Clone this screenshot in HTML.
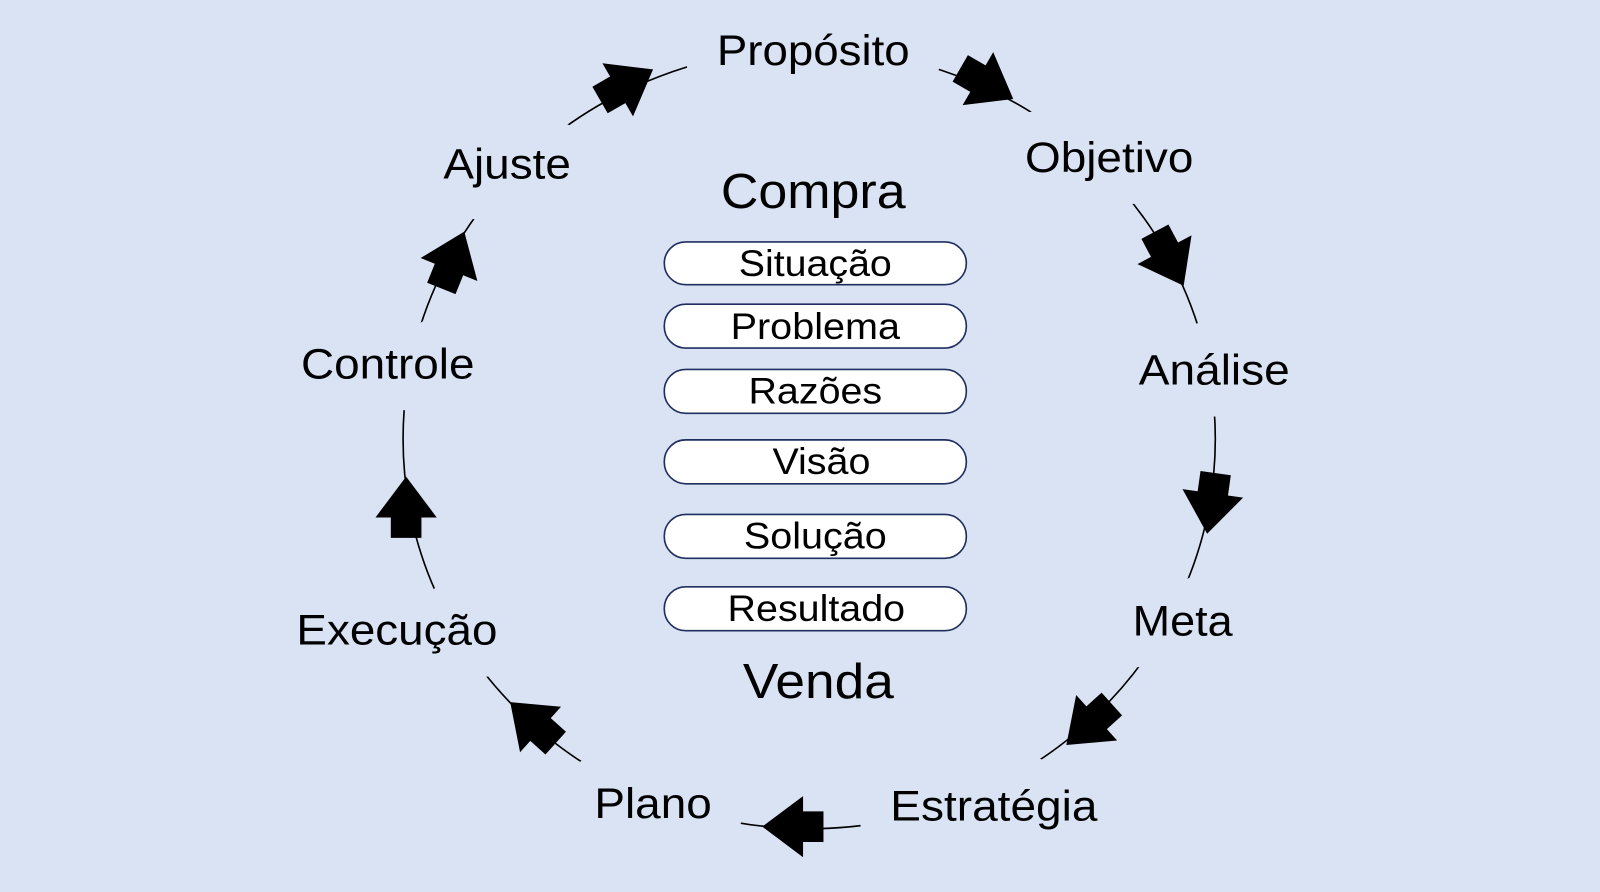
<!DOCTYPE html>
<html><head><meta charset="utf-8"><style>
html,body{margin:0;padding:0;background:#dae3f3;}
svg{display:block}
text{font-family:"Liberation Sans",Arial,sans-serif;fill:#000}
</style></head><body>
<svg width="1600" height="892" viewBox="0 0 1568 874" preserveAspectRatio="none" xmlns="http://www.w3.org/2000/svg">
<rect width="1568" height="874" fill="#dae3f3"/>
<defs>
<polygon id="ar" points="0,0 -40,-30 -40,-15 -60,-15 -60,15 -40,15 -40,30"/>
</defs>
<ellipse cx="793" cy="430" rx="398" ry="382" fill="none" stroke="#000" stroke-width="1.6"/>
<g font-size="42" text-anchor="middle" dominant-baseline="central" stroke="#dae3f3" stroke-width="62" stroke-linejoin="round" paint-order="stroke" lengthAdjust="spacingAndGlyphs">
<text x="797" y="50" textLength="189" lengthAdjust="spacingAndGlyphs">Propósito</text>
<text x="1087" y="155" textLength="165" lengthAdjust="spacingAndGlyphs">Objetivo</text>
<text x="1190" y="363" textLength="148" lengthAdjust="spacingAndGlyphs">Análise</text>
<text x="1159" y="609" textLength="98" lengthAdjust="spacingAndGlyphs">Meta</text>
<text x="974" y="790" textLength="203" lengthAdjust="spacingAndGlyphs">Estratégia</text>
<text x="640" y="788" textLength="115" lengthAdjust="spacingAndGlyphs">Plano</text>
<text x="389" y="618" textLength="197" lengthAdjust="spacingAndGlyphs">Execução</text>
<text x="380" y="357" textLength="170" lengthAdjust="spacingAndGlyphs">Controle</text>
<text x="497" y="161" textLength="125" lengthAdjust="spacingAndGlyphs">Ajuste</text>
</g>
<g fill="#000">
<use href="#ar" transform="translate(640,68) rotate(-30)"/>
<use href="#ar" transform="translate(993,97) rotate(30)"/>
<use href="#ar" transform="translate(1160,280) rotate(62)"/>
<use href="#ar" transform="translate(1183,523) rotate(98)"/>
<use href="#ar" transform="translate(1045,730) rotate(138)"/>
<use href="#ar" transform="translate(747,810) rotate(180)"/>
<use href="#ar" transform="translate(500,688) rotate(-138)"/>
<use href="#ar" transform="translate(398,467) rotate(-90)"/>
<use href="#ar" transform="translate(455,227) rotate(-68)"/>
</g>
<g font-size="48" text-anchor="middle" dominant-baseline="central">
<text x="797" y="188" textLength="181" lengthAdjust="spacingAndGlyphs">Compra</text>
<text x="802" y="668" textLength="148" lengthAdjust="spacingAndGlyphs">Venda</text>
</g>
<g fill="#fff" stroke="#1f2f5f" stroke-width="1.6">
<rect x="651" y="237" width="296" height="42" rx="21"/>
<rect x="651" y="298" width="296" height="43" rx="21"/>
<rect x="651" y="362" width="296" height="43" rx="21"/>
<rect x="651" y="431" width="296" height="43" rx="21"/>
<rect x="651" y="504" width="296" height="43" rx="21"/>
<rect x="651" y="575" width="296" height="43" rx="21"/>
</g>
<g font-size="36" text-anchor="middle" dominant-baseline="central">
<text x="799" y="258" textLength="150" lengthAdjust="spacingAndGlyphs">Situação</text>
<text x="799" y="320" textLength="166" lengthAdjust="spacingAndGlyphs">Problema</text>
<text x="799" y="383" textLength="131" lengthAdjust="spacingAndGlyphs">Razões</text>
<text x="805" y="452" textLength="96" lengthAdjust="spacingAndGlyphs">Visão</text>
<text x="799" y="525" textLength="140" lengthAdjust="spacingAndGlyphs">Solução</text>
<text x="800" y="596" textLength="174" lengthAdjust="spacingAndGlyphs">Resultado</text>
</g>
</svg>
</body></html>
